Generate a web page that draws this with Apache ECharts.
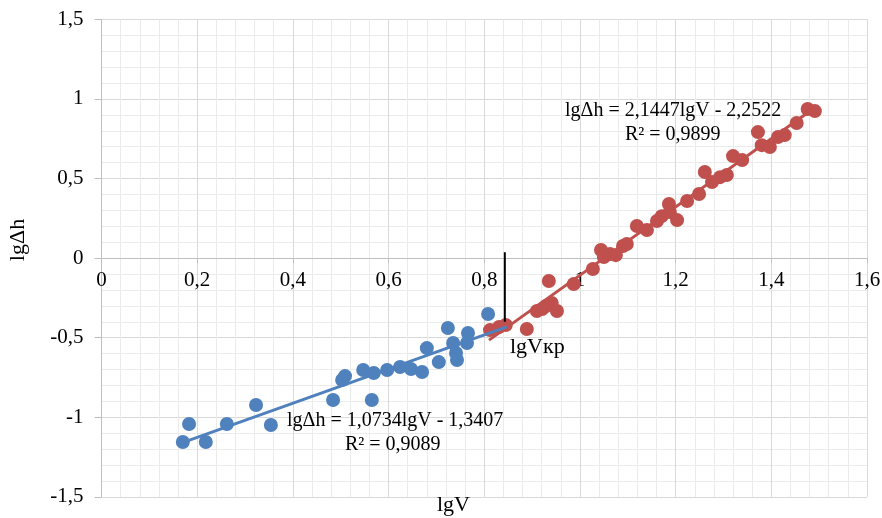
<!DOCTYPE html>
<html>
<head>
<meta charset="utf-8">
<script src="https://cdn.jsdelivr.net/npm/echarts@6/dist/echarts.min.js"></script>
<style>html,body{margin:0;padding:0;background:#fff}#c{width:882px;height:518px}</style>
</head>
<body>
<div id="c"></div>
<script>
// Data (lgV, lgΔh)
const blueX = [0.170,0.183,0.218,0.262,0.323,0.354,0.484,0.503,0.509,0.547,0.569,0.565,0.597,0.624,0.647,0.670,0.680,0.705,0.724,0.735,0.741,0.743,0.764,0.766,0.808];
const blueY = [-1.155,-1.042,-1.155,-1.042,-0.923,-1.048,-0.891,-0.766,-0.741,-0.703,-0.722,-0.891,-0.703,-0.684,-0.697,-0.715,-0.565,-0.653,-0.439,-0.533,-0.596,-0.640,-0.533,-0.470,-0.351];
const redX = [0.812,0.831,0.845,0.889,0.935,0.910,0.921,0.929,0.941,0.952,0.987,1.027,1.044,1.050,1.063,1.075,1.090,1.098,1.119,1.140,1.161,1.171,1.186,1.188,1.203,1.224,1.249,1.261,1.276,1.293,1.307,1.320,1.339,1.372,1.380,1.397,1.414,1.428,1.453,1.476,1.491];
const redY = [-0.452,-0.433,-0.420,-0.445,-0.144,-0.332,-0.320,-0.301,-0.282,-0.332,-0.163,-0.068,0.051,0.007,0.026,0.019,0.076,0.089,0.202,0.177,0.233,0.264,0.340,0.290,0.239,0.359,0.403,0.541,0.478,0.509,0.522,0.641,0.616,0.792,0.710,0.698,0.761,0.773,0.849,0.937,0.924];
// Trend lines: slope, intercept, x-range
const blueTrend = {k: 1.0734, b: -1.3407, x0: 0.165, x1: 0.847};
const redTrend = {k: 2.1447, b: -2.2522, x0: 0.810, x1: 1.492};
const critX = [0.843, 0.843];
const critY = [0.037, -0.40];
const xTicks = {min: 0, max: 1.6, interval: 0.2};
const yTicks = {min: -1.5, max: 1.5, interval: 0.5};

const zip = (a, b) => a.map((v, i) => [v, b[i]]);
const trend = t => [[t.x0, t.k * t.x0 + t.b], [t.x1, t.k * t.x1 + t.b]];
const fmt = v => String(Math.round(v * 10) / 10).replace('.', ',');
const FONT = '"Liberation Serif", "Times New Roman", serif';

const GRID_H = 477.5;
// x axis crosses the y axis at lgΔh = 0
const xAxisOffset = -GRID_H * (0 - yTicks.min) / (yTicks.max - yTicks.min);

const chart = echarts.init(document.getElementById('c'), null, {renderer: 'canvas'});
chart.setOption({
  animation: false,
  backgroundColor: '#fff',
  grid: {left: 101.5, top: 19.4, width: 765.5, height: GRID_H, containLabel: false, outerBoundsMode: 'none'},
  xAxis: {
    type: 'value', min: xTicks.min, max: xTicks.max, interval: xTicks.interval,
    position: 'bottom', offset: xAxisOffset,
    axisLine: {onZero: false, lineStyle: {color: '#bfbfbf', width: 1}},
    axisTick: {show: true, length: 5, lineStyle: {color: '#bfbfbf'}},
    axisLabel: {formatter: fmt, fontFamily: FONT, fontSize: 21, color: '#000', margin: 12},
    splitLine: {show: true, lineStyle: {color: '#d9d9d9', width: 1}},
    minorTick: {show: false, splitNumber: 5},
    minorSplitLine: {show: true, lineStyle: {color: '#ebebeb', width: 1}}
  },
  yAxis: {
    type: 'value', min: yTicks.min, max: yTicks.max, interval: yTicks.interval,
    axisLine: {show: true, onZero: false, lineStyle: {color: '#bfbfbf', width: 1}},
    axisTick: {show: true, length: 7, lineStyle: {color: '#bfbfbf'}},
    axisLabel: {formatter: fmt, fontFamily: FONT, fontSize: 21, color: '#000', margin: 18},
    splitLine: {show: true, lineStyle: {color: '#d9d9d9', width: 1}},
    minorTick: {show: false, splitNumber: 5},
    minorSplitLine: {show: true, lineStyle: {color: '#ebebeb', width: 1}}
  },
  series: [
    {type: 'scatter', data: zip(redX, redY), symbolSize: 14, itemStyle: {color: '#c0504d', opacity: 1}, z: 2},
    {type: 'scatter', data: zip(blueX, blueY), symbolSize: 14, itemStyle: {color: '#4f81bd', opacity: 1}, z: 3},
    {type: 'line', data: trend(redTrend), showSymbol: false, lineStyle: {color: '#c0504d', width: 3}, z: 4},
    {type: 'line', data: trend(blueTrend), showSymbol: false, lineStyle: {color: '#4f81bd', width: 3}, z: 5},
    {type: 'line', data: zip(critX, critY), showSymbol: false, lineStyle: {color: '#000', width: 2}, z: 6}
  ],
  graphic: [
    {type: 'text', z: 100, left: 565, top: 101, style: {text: 'lgΔh = 2,1447lgV - 2,2522', font: '20px ' + FONT, fill: '#000'}},
    {type: 'text', z: 100, left: 625, top: 125, style: {text: 'R² = 0,9899', font: '20px ' + FONT, fill: '#000'}},
    {type: 'text', z: 100, left: 287, top: 411, style: {text: 'lgΔh = 1,0734lgV - 1,3407', font: '20px ' + FONT, fill: '#000'}},
    {type: 'text', z: 100, left: 345, top: 435, style: {text: 'R² = 0,9089', font: '20px ' + FONT, fill: '#000'}},
    {type: 'text', z: 100, left: 510, top: 336, style: {text: 'lgVкр', font: '22px ' + FONT, fill: '#000'}},
    {type: 'text', z: 100, left: 437, top: 494, style: {text: 'lgV', font: '22px ' + FONT, fill: '#000'}},
    {type: 'text', z: 100, x: 18, y: 240, rotation: Math.PI / 2, style: {text: 'lgΔh', font: '22px ' + FONT, fill: '#000', align: 'center', verticalAlign: 'middle'}}
  ]
});
</script>
</body>
</html>
